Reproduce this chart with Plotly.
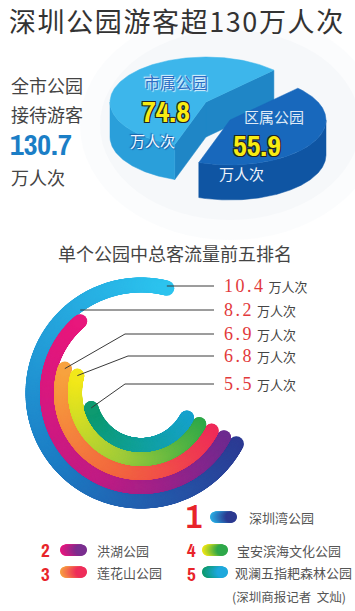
import numpy as np
import plotly.graph_objects as go

# ---------------- data ----------------
title = "深圳公园游客超130万人次"
pie_labels = ["市属公园", "区属公园"]
pie_values = [74.8, 55.9]
total_label = ["全市公园", "接待游客"]
total_value = 130.7
unit = "万人次"
sub_title = "单个公园中总客流量前五排名"
ranks = ["1", "2", "3", "4", "5"]
parks = ["深圳湾公园", "洪湖公园", "莲花山公园", "宝安滨海文化公园", "观澜五指耙森林公园"]
visitors = [10.4, 8.2, 6.9, 6.8, 5.5]
source = "(深圳商报记者  文灿)"

# ---------------- layout constants ----------------
W, H = 355, 611
CJK = "Noto Sans CJK SC"
NARROW = "Archivo Narrow, Liberation Sans"

fig = go.Figure()

# faint background glow behind pie
shapes = []
for (rx, ry, op) in [(150, 115, 0.05), (130, 95, 0.06)]:
    cx0, cy0 = 230, 125
    shapes.append(dict(type="circle", xref="x", yref="y", x0=cx0 - rx, x1=cx0 + rx,
                       y0=cy0 - ry, y1=cy0 + ry, fillcolor=f"rgba(170,190,210,{op})",
                       line=dict(width=0), layer="below"))

# ---------------- 3D pie ----------------
pie_c = np.array([206.0, 102.0])
pie_a, pie_b, pie_h = 96.0, 45.0, 35.0
pie_start = 45.0
dark_offset = np.array([24.0, 18.0])


def rim(c, th):
    t = np.radians(th)
    return c[0] + pie_a * np.cos(t), c[1] - pie_b * np.sin(t)


def poly(xs, ys, color):
    fig.add_trace(go.Scatter(x=list(xs) + [xs[0]], y=list(ys) + [ys[0]], mode="lines",
                             fill="toself", fillcolor=color, line=dict(color=color, width=0.5),
                             hoverinfo="skip", showlegend=False))


total = sum(pie_values)
spans = [v / total * 360 for v in pie_values]
t0 = pie_start
slices = []
for sp in spans:
    slices.append((t0, t0 + sp))
    t0 += sp

slice_cols = [
    dict(top="#3db6eb", wall="#2a9fda", cut="#1f86c6"),
    dict(top="#1868bc", wall="#0f55a3", cut="#0c4a8f"),
]
centers = [pie_c, pie_c + dark_offset]

for i, ((a0, a1), col, c) in enumerate(zip(slices, slice_cols, centers)):
    if i == 0:
        for ang in (a0, a1):
            ex, ey = rim(c, ang)
            poly([c[0], ex, ex, c[0]], [c[1], ey, ey + pie_h, c[1] + pie_h], col["cut"])
    th = np.linspace(a0, a1, 300)
    front = th[(np.mod(th, 360) >= 180)]
    if len(front) > 1:
        fx, fy = rim(c, front)
        poly(np.concatenate([fx, fx[::-1]]), np.concatenate([fy, (fy + pie_h)[::-1]]), col["wall"])
    tx, ty = rim(c, th)
    poly(np.concatenate([[c[0]], tx]), np.concatenate([[c[1]], ty]), col["top"])

# ---------------- concentric arcs ----------------
ring_c = (141.0, 393.0)
ring_r = [108, 94, 80, 66, 52]
ring_w = [15, 14, 14, 14, 14]
arc_start = -28.0
deg_per_unit = 24.6
ring_scales = [
    [[0, "#2c3a93"], [0.45, "#1c7cc4"], [1, "#2cc3ee"]],
    [[0, "#6c2b90"], [0.45, "#c01c84"], [1, "#e8177c"]],
    [[0, "#ee2a5a"], [0.5, "#f2683f"], [1, "#f7a23e"]],
    [[0, "#2ea84a"], [0.5, "#9fcb3a"], [1, "#f2e81a"]],
    [[0, "#18a2cf"], [0.5, "#12a19e"], [1, "#0e9a70"]],
]
arc_ends = []
for v, r, w, cs in zip(visitors, ring_r, ring_w, ring_scales):
    sweep = v * deg_per_unit
    th = np.linspace(arc_start, arc_start - sweep, 700)
    t = np.radians(th)
    x = ring_c[0] + r * np.cos(t)
    y = ring_c[1] - r * np.sin(t)
    arc_ends.append((x[-1], y[-1]))
    fig.add_trace(go.Scatter(x=x, y=y, mode="markers",
                             marker=dict(size=w, color=np.linspace(0, 1, len(th)), colorscale=cs,
                                         cmin=0, cmax=1, line=dict(width=0), showscale=False),
                             hoverinfo="skip", showlegend=False))

# leader lines and value labels
label_y = [286, 310, 334, 356, 384]
bend_x = [None, None, 125, 128, 125]
line_end_x = 214
label_x = 222
annotations = []
for (ex, ey), ly, bx, v in zip(arc_ends, label_y, bend_x, visitors):
    if bx is None:
        xs, ys = [ex, line_end_x], [ly, ly]
    else:
        xs, ys = [ex, bx, line_end_x], [ey, ly, ly]
    fig.add_trace(go.Scatter(x=xs, y=ys, mode="lines", line=dict(color="#3a3a3a", width=1),
                             hoverinfo="skip", showlegend=False))
    annotations.append(dict(x=label_x, y=ly, xanchor="left",
                            text=f"<span style='color:#e2393b;font-family:Liberation Serif;font-size:18px;"
                                 f"letter-spacing:2.5px'>{v}</span>"
                                 f"<span style='font-size:13px'> {unit}</span>",
                            font=dict(family=CJK, size=13, color="#444444")))

# ---------------- legend (custom) ----------------
rank_x = [194, 45, 45, 191, 191]
rank_y = [515, 549, 573, 549, 573]
rank_sizes = [34, 19, 19, 19, 19]
swatch_x = [(210, 237), (60, 87), (60, 87), (202, 228), (202, 228)]
swatch_y = [517, 550, 572, 550, 572]
name_x = [247, 95, 95, 235, 233]
swatch_cols = [
    [[0, "#2aaee4"], [1, "#2b3990"]],
    [[0, "#e8177e"], [1, "#7a2e8f"]],
    [[0, "#f7a042"], [1, "#ee2d5a"]],
    [[0, "#f0e616"], [1, "#2ea84a"]],
    [[0, "#0e9a6c"], [1, "#1ea8dc"]],
]
for i in range(5):
    py = swatch_y[i]
    x0, x1 = swatch_x[i]
    sx = np.linspace(x0 + 5.5, x1 - 5.5, 40)
    fig.add_trace(go.Scatter(x=sx, y=np.full_like(sx, py), mode="markers",
                             marker=dict(size=11, color=np.linspace(0, 1, len(sx)), colorscale=swatch_cols[i],
                                         cmin=0, cmax=1, line=dict(width=0), showscale=False),
                             hoverinfo="skip", showlegend=False))
    annotations.append(dict(x=rank_x[i], y=rank_y[i] + 1, text=f"<b>{ranks[i]}</b>",
                            font=dict(family=NARROW, size=rank_sizes[i], color="#e8242a")))
    annotations.append(dict(x=name_x[i], y=py, xanchor="left", text=parks[i],
                            font=dict(family=CJK, size=13, color="#555555")))

# ---------------- texts ----------------
annotations += [
    dict(x=7, y=20.5, text=f"<span style='letter-spacing:1.6px'>{title}</span>", xanchor="left",
         font=dict(family=CJK, size=27, color="#333333")),
    dict(x=9, y=85, text=total_label[0], xanchor="left", font=dict(family=CJK, size=18, color="#444444")),
    dict(x=9, y=114, text=total_label[1], xanchor="left", font=dict(family=CJK, size=18, color="#444444")),
    dict(x=8, y=144, text=f"<b>{total_value}</b>", xanchor="left",
         font=dict(family=NARROW, size=30, color="#1b7ec6")),
    dict(x=9, y=177, text=unit, xanchor="left", font=dict(family=CJK, size=18, color="#444444")),
    dict(x=176, y=82, text=pie_labels[0], font=dict(family=CJK, size=16, color="#2a6ec4",
         shadow="1px 1px 1px #e8f6ff, -1px -1px 1px #e8f6ff")),
    dict(x=166, y=111, text=f"<b>{pie_values[0]}</b>", font=dict(family=NARROW, size=30, color="#f8ec12",
         shadow="1px 1px 0 #222, -1px -1px 0 #222, 1px -1px 0 #222, -1px 1px 0 #222")),
    dict(x=152, y=140, text=unit, font=dict(family=CJK, size=15, color="#f2f8ff",
         shadow="1px 1px 1px #1a5fa8, -1px -1px 1px #1a5fa8")),
    dict(x=274, y=116, text=pie_labels[1], font=dict(family=CJK, size=15, color="#dfeaf6")),
    dict(x=257, y=145, text=f"<b>{pie_values[1]}</b>", font=dict(family=NARROW, size=30, color="#f8ec12",
         shadow="1px 1px 0 #222, -1px -1px 0 #222, 1px -1px 0 #222, -1px 1px 0 #222")),
    dict(x=241, y=173, text=unit, font=dict(family=CJK, size=15, color="#eef4fb")),
    dict(x=175, y=253, text=sub_title, font=dict(family=CJK, size=18, color="#444444")),
    dict(x=348, y=596, text=source, xanchor="right", font=dict(family=CJK, size=12.5, color="#555555")),
]
for a in annotations:
    a.setdefault("xref", "x")
    a.setdefault("yref", "y")
    a.setdefault("showarrow", False)
    a.setdefault("yanchor", "middle")
    a.setdefault("xanchor", "center")

fig.update_layout(
    width=W, height=H, margin=dict(l=0, r=0, t=0, b=0),
    paper_bgcolor="white", plot_bgcolor="white",
    xaxis=dict(range=[0, W], visible=False, fixedrange=True),
    yaxis=dict(range=[H, 0], visible=False, fixedrange=True),
    showlegend=False, annotations=annotations, shapes=shapes,
)
fig.write_html("out.html", config={"displayModeBar": False})
